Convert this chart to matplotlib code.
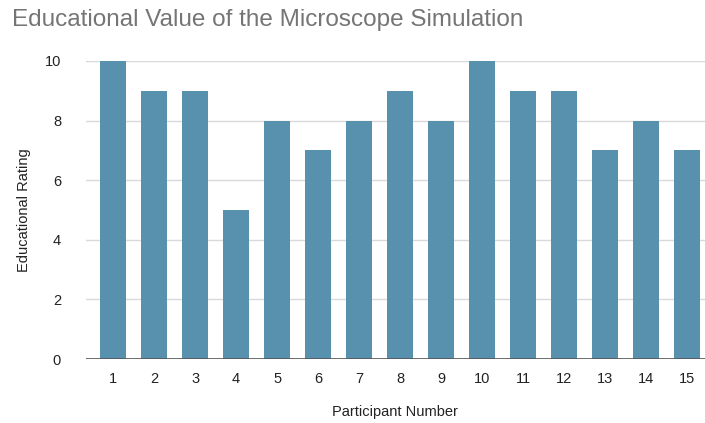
import matplotlib
matplotlib.use("Agg")
import matplotlib.pyplot as plt

participants = list(range(1, 16))
ratings = [10, 9, 9, 5, 8, 7, 8, 9, 8, 10, 9, 9, 7, 8, 7]
yticks = [0, 2, 4, 6, 8, 10]

plt.rcParams['font.family'] = ['Liberation Sans', 'DejaVu Sans']

fig = plt.figure(figsize=(7.05, 4.23), dpi=100)
ax = fig.add_axes([86/705, 1-359/423, 1-86/705, (359-61)/423])

ax.bar(participants, ratings, width=0.63, color='#5891ad', zorder=3)
ax.set_xlim(0.34, 15.44)
ax.set_ylim(0, 10)
ax.set_yticks(yticks)
ax.set_xticks(participants)
ax.set_xticklabels([str(p) for p in participants])
ax.yaxis.grid(True, color='#d9d9d9', linewidth=1, zorder=0)
ax.axhline(0, color='#555555', linewidth=1.2, zorder=4)
for s in ax.spines.values():
    s.set_visible(False)
ax.tick_params(axis='both', length=0, labelsize=10.5, colors='#222222')
ax.tick_params(axis='y', pad=18)
ax.tick_params(axis='x', pad=9)
fig.text(24/705, 1-210/423, 'Educational Rating', fontsize=10.5, color='#222222',
         rotation=90, va='center', ha='center')
fig.text(395/705, 1-412/423, 'Participant Number', fontsize=10.5, color='#222222',
         va='center', ha='center')
fig.text(12/705, 1-20/423, 'Educational Value of the Microscope Simulation',
         fontsize=17.5, color='#757575', va='center', ha='left')

fig.savefig('out.png', dpi=100)
